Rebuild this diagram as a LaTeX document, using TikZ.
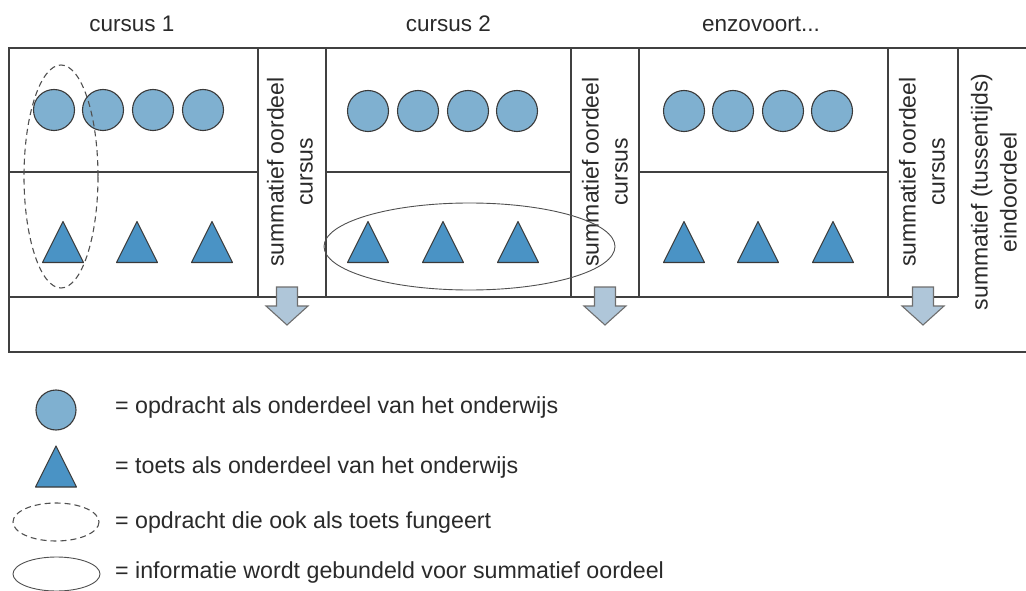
\documentclass[tikz,border=0pt]{standalone}
\usepackage{fontspec}
\setmainfont{Liberation Sans}
\definecolor{strokec}{HTML}{3A3A3A}
\definecolor{circfill}{HTML}{7FB0D0}
\definecolor{trifill}{HTML}{4A93C5}
\definecolor{arrfill}{HTML}{AFC6D9}
\definecolor{arrstroke}{HTML}{6E6E6E}
\definecolor{txtc}{HTML}{2A2A2A}
\definecolor{linec}{HTML}{404040}
\definecolor{ellc}{HTML}{505050}
\begin{document}
\begin{tikzpicture}[x=1pt,y=-1pt,
  txt/.style={font=\fontsize{22.5}{29}\selectfont, text=txtc, inner sep=0pt},
  legtxt/.style={txt, font=\fontsize{23.2}{29}\selectfont, anchor=base west},
  vtxt/.style={txt, font=\fontsize{23}{29}\selectfont, rotate=90, align=center},
  boxline/.style={draw=linec, line width=1.3pt},
  circ/.style={circle, draw=strokec, fill=circfill, minimum size=41pt, inner sep=0pt, line width=1.1pt},
  dashell/.style={draw=ellc, line width=1.1pt, dash pattern=on 6pt off 4pt},
  solell/.style={draw=ellc, line width=0.9pt},
  tri/.pic={\path[draw=strokec, fill=trifill, line width=1.1pt, line join=round] (0,-20.5) -- (20.5,20.5) -- (-20.5,20.5) -- cycle;},
  darr/.pic={\path[draw=arrstroke, fill=arrfill, line width=1.1pt, line join=miter] (-10.5,-19) -- (10.5,-19) -- (10.5,0) -- (21,0) -- (0,19) -- (-21,0) -- (-10.5,0) -- cycle;}
]
\useasboundingbox (0,0) rectangle (1026,591);

% headings
\node[txt, anchor=base] (h1) at (132,32) {cursus 1};
\node[txt, anchor=base] (h2) at (448.5,32) {cursus 2};
\node[txt, anchor=base] (h3) at (761,32) {enzovoort...};

% frame
\draw[boxline] (1026,48) -- (9,48) -- (9,352) -- (1026,352);
\draw[boxline] (9,297) -- (958,297);
\foreach \x in {258,326,571,639,888,958} \draw[boxline] (\x,48) -- (\x,297);
\draw[boxline] (9,172) -- (258,172);
\draw[boxline] (326,172) -- (571,172);
\draw[boxline] (639,172) -- (888,172);

% circles
\foreach \x [count=\i] in {54,103,153,203} \node[circ] (a\i) at (\x,110) {};
\foreach \x [count=\i] in {368,418,468,517} \node[circ] (b\i) at (\x,111) {};
\foreach \x [count=\i] in {684,733,783,832} \node[circ] (c\i) at (\x,111) {};

% triangles
\foreach \x in {63,137,212,368,443,518,684,758,833} \pic at (\x,242) {tri};

% vertical texts
\node[vtxt] (s1) at (290,172) {summatief oordeel\\cursus};
\node[vtxt] (s2) at (605,172) {summatief oordeel\\cursus};
\node[vtxt] (s3) at (922,172) {summatief oordeel\\cursus};
\node[vtxt] (s4) at (994,192) {summatief (tussentijds)\\eindoordeel};

% arrows
\foreach \x in {287,605,923} \pic at (\x,306) {darr};

% ellipses
\draw[dashell] (61,176.5) ellipse [x radius=37, y radius=111.5];
\draw[solell] (469.5,246.5) ellipse [x radius=145.5, y radius=43.5];

% legend
\node[circ, minimum size=40pt] (lc) at (56,410) {};
\pic at (56,466.5) {tri};
\draw[dashell] (56,522) ellipse [x radius=43, y radius=19];
\draw[solell] (56.5,574) ellipse [x radius=43.5, y radius=17];
\node[legtxt] (l1) at (115,413) {= opdracht als onderdeel van het onderwijs};
\node[legtxt] (l2) at (115,473) {= toets als onderdeel van het onderwijs};
\node[legtxt] (l3) at (115,528) {= opdracht die ook als toets fungeert};
\node[legtxt] (l4) at (115,578) {= informatie wordt gebundeld voor summatief oordeel};
\end{tikzpicture}
\end{document}
